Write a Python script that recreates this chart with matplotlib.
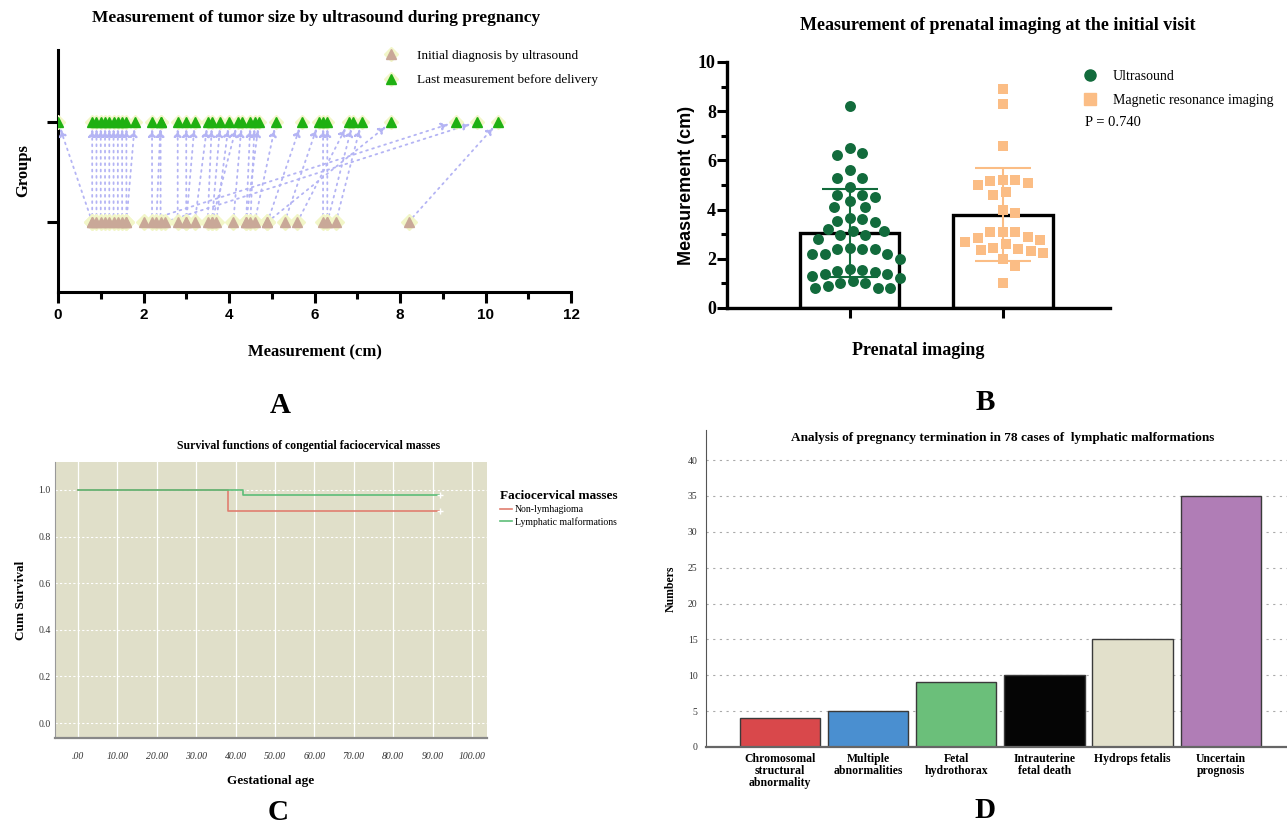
import numpy as np
import matplotlib
matplotlib.use('Agg')
import matplotlib.pyplot as plt
from matplotlib.lines import Line2D
from matplotlib.legend_handler import HandlerTuple

plt.rcParams.update({'font.family': 'Liberation Serif', 'font.size': 9})

# ---------------- data ----------------
# A: paired tumour size, initial diagnosis -> last measurement (cm)
initial_cm = [0.8, 0.8, 0.9, 1.0, 1.1, 1.2, 1.3, 1.4, 1.5, 1.6, 1.6, 2.0, 2.2,
              2.3, 2.4, 2.5, 2.8, 3.0, 3.0, 3.2, 3.5, 3.6, 3.6, 3.7, 4.1, 4.4,
              4.4, 4.5, 4.6, 4.9, 4.9, 5.3, 5.6, 6.2, 6.3, 6.3, 6.5, 8.2]
last_cm = [0.0, 0.8, 0.9, 1.0, 1.1, 1.2, 1.3, 1.4, 1.5, 1.6, 1.8, 9.3, 2.2,
           2.4, 2.4, 9.8, 2.8, 3.0, 3.2, 3.5, 3.6, 4.2, 3.8, 4.0, 4.3, 4.5,
           4.7, 4.6, 5.1, 5.7, 7.8, 6.1, 6.8, 6.2, 6.3, 6.9, 7.1, 10.3]

# B: measurement at initial visit (cm)
us_cm = [8.2, 6.5, 6.3, 6.2, 5.6, 5.3, 5.3, 4.9, 4.6, 4.6, 4.5, 4.35, 4.1, 4.1,
         3.65, 3.6, 3.55, 3.5, 3.2, 3.15, 3.15, 2.95, 2.95, 2.8, 2.45, 2.4, 2.4,
         2.4, 2.2, 2.2, 2.2, 2.0, 1.6, 1.55, 1.5, 1.45, 1.4, 1.4, 1.3, 1.2, 1.1,
         1.0, 1.0, 0.9, 0.8, 0.8, 0.8]
mri_cm = [8.9, 8.3, 6.6, 5.2, 5.2, 5.15, 5.1, 5.0, 4.7, 4.6, 4.0, 3.85, 3.1,
          3.1, 3.1, 2.9, 2.85, 2.75, 2.7, 2.6, 2.45, 2.4, 2.35, 2.3, 2.25, 2.0,
          1.7, 1.0]
p_value = 'P = 0.740'

# C: Kaplan-Meier steps
km_time = [0, 38, 42, 92]
km_non_lymph = [1.0, 0.909, 0.909, 0.909]
km_lymph = [1.0, 1.0, 0.977, 0.977]
c_xticks = [0, 10, 20, 30, 40, 50, 60, 70, 80, 90, 100]
c_yticks = [0.0, 0.2, 0.4, 0.6, 0.8, 1.0]

# D: pregnancy termination reasons
d_labels = ['Chromosomal\nstructural\nabnormality', 'Multiple\nabnormalities',
            'Fetal\nhydrothorax', 'Intrauterine\nfetal death',
            'Hydrops fetalis', 'Uncertain\nprognosis']
d_counts = [4, 5, 9, 10, 15, 35]
d_colors = ['#d9484b', '#4a8fd0', '#6bbf7a', '#050505', '#e2e0cb', '#b07db6']

W, H = 1287, 825
fig = plt.figure(figsize=(W / 100, H / 100), dpi=100)


def px_axes(l, t, r, b):
    return fig.add_axes([l / W, 1 - b / H, (r - l) / W, (b - t) / H])


# ---------------- A ----------------
ax = px_axes(58, 50, 571, 292)
ax.set_xlim(0, 12)
ax.set_ylim(0.3, 2.72)
lav = '#b4b4f4'
for a, b in zip(initial_cm, last_cm):
    ax.annotate('', xy=(b, 2), xytext=(a, 1),
                arrowprops=dict(arrowstyle='-|>', color=lav, lw=1.3,
                                linestyle=(0, (1, 2.5)), mutation_scale=11,
                                shrinkA=0, shrinkB=5))
ax.plot(initial_cm, [1] * len(initial_cm), 'D', color='#f2f6c8', ms=8,
        ls='none', zorder=3)
ax.plot(initial_cm, [1] * len(initial_cm), '^', color='#c9a898', ms=7,
        ls='none', zorder=4)
ax.plot(last_cm, [2] * len(last_cm), 'D', color='#f2f6c8', ms=7,
        ls='none', zorder=3)
ax.plot(last_cm, [2] * len(last_cm), '^', color='#1fb012', ms=7,
        ls='none', zorder=4)
ax.set_yticks([1, 2])
ax.set_yticklabels([])
ax.set_xticks(range(0, 13, 2))
ax.set_xticks(range(1, 12, 2), minor=True)
for s in ['top', 'right']:
    ax.spines[s].set_visible(False)
for s in ['left', 'bottom']:
    ax.spines[s].set_linewidth(2.2)
ax.tick_params(axis='both', which='major', width=2.2, length=8)
ax.tick_params(axis='x', which='minor', width=2.2, length=5)
for t in ax.get_xticklabels():
    t.set_family('Liberation Sans')
    t.set_fontweight('bold')
    t.set_fontsize(11)
ax.set_xlabel('Measurement (cm)', fontsize=12, fontweight='bold', labelpad=16)
ax.set_ylabel('Groups', fontsize=12, fontweight='bold', labelpad=8)
fig.text(316 / W, 1 - 18 / H, 'Measurement of tumor size by ultrasound during pregnancy',
         ha='center', va='center', fontsize=12.5, fontweight='bold')
h1 = (Line2D([], [], marker='D', color='#f2f6c8', ms=7, ls='none'),
      Line2D([], [], marker='^', color='#c9a898', ms=7, ls='none'))
h2 = (Line2D([], [], marker='D', color='#f2f6c8', ms=7, ls='none'),
      Line2D([], [], marker='^', color='#1fb012', ms=7, ls='none'))
ax.legend([h1, h2], ['Initial diagnosis by ultrasound',
                     'Last measurement before delivery'],
          handler_map={tuple: HandlerTuple(ndivide=1, pad=0)},
          loc='upper left', bbox_to_anchor=(0.6, 1.05), frameon=False,
          fontsize=9.5, handletextpad=1.0, labelspacing=0.9)
fig.text(280 / W, 1 - 405 / H, 'A', ha='center', va='center', fontsize=21,
         fontweight='bold')

# ---------------- B ----------------
ax = px_axes(727, 62, 1110, 308)
ax.set_xlim(-0.80, 1.70)
ax.set_ylim(0, 10)
green = '#126b3c'
orange = '#fbbd85'


def swarm(ax, values, xc, diam_px):
    pts = ax.transData.transform([(xc, v) for v in values])
    placed = []
    xs = []
    for px, py in pts:
        best = None
        for k in range(0, 40):
            for sgn in ([1] if k == 0 else [1, -1]):
                cand = px + sgn * k * diam_px * 0.25
                if all((cand - qx) ** 2 + (py - qy) ** 2 >= diam_px ** 2
                       for qx, qy in placed):
                    best = cand
                    break
            if best is not None:
                break
        placed.append((best, py))
        xs.append(ax.transData.inverted().transform((best, py))[0])
    return xs


for xc, vals, col, mk in [(0, us_cm, green, 'o'), (1, mri_cm, orange, 's')]:
    m, sd = np.mean(vals), np.std(vals, ddof=1)
    ax.bar(xc, m, width=0.65, facecolor='white', edgecolor='black',
           linewidth=2.4, zorder=1)
    xs = swarm(ax, vals, xc, 12.5)
    ax.scatter(xs, vals, s=62, marker=mk, color=col, linewidths=0, zorder=3)
    ax.errorbar(xc, m, yerr=sd, color=col, capsize=20, capthick=1.5,
                elinewidth=1.5, zorder=4)
ax.set_xticks([0, 1])
ax.set_xticklabels([])
ax.set_yticks(range(0, 11, 2))
ax.set_yticks(range(1, 10, 2), minor=True)
for s in ['top', 'right']:
    ax.spines[s].set_visible(False)
for s in ['left', 'bottom']:
    ax.spines[s].set_linewidth(2.4)
ax.tick_params(axis='both', which='major', width=2.2, length=7)
ax.tick_params(axis='y', which='major', pad=1)
ax.tick_params(axis='y', which='minor', width=2.2, length=4)
for t in ax.get_yticklabels():
    t.set_fontweight('bold')
    t.set_fontsize(13)
ax.set_ylabel('Measurement (cm)', family='Liberation Sans', fontsize=13,
              fontweight='bold', labelpad=2)
ax.set_xlabel('Prenatal imaging', fontsize=13, fontweight='bold', labelpad=14)
fig.text(998 / W, 1 - 25 / H, 'Measurement of prenatal imaging at the initial visit',
         ha='center', va='center', fontsize=13, fontweight='bold')
hb = [Line2D([], [], marker='o', color=green, ms=8, ls='none'),
      Line2D([], [], marker='s', color=orange, ms=8, ls='none')]
ax.legend(hb, ['Ultrasound', 'Magnetic resonance imaging'],
          loc='upper left', bbox_to_anchor=(0.88, 1.02), frameon=False,
          fontsize=10, handletextpad=0.6, labelspacing=0.8)
fig.text(1085 / W, 1 - 123 / H, p_value, ha='left', va='center', fontsize=10.5)
fig.text(985 / W, 1 - 402 / H, 'B', ha='center', va='center', fontsize=21,
         fontweight='bold')

# ---------------- C ----------------
ax = px_axes(55, 462, 487, 738)
ax.set_facecolor('#e0dfc9')
ax.set_xlim(-5.8, 103.8)
ax.set_ylim(-0.064, 1.12)
for x in c_xticks:
    ax.axvline(x, color='white', lw=0.9, zorder=0)
for y in c_yticks:
    ax.axhline(y, color='white', lw=0.8, ls=(0, (2, 2)), zorder=0)
ax.step(km_time, km_non_lymph, where='post', color='#e07e70', lw=1.2)
ax.step(km_time, km_lymph, where='post', color='#5dbd78', lw=1.2)
ax.plot([km_time[-1]], [km_non_lymph[-1]], '+', color='white', ms=5)
ax.plot([km_time[-1]], [km_lymph[-1]], '+', color='white', ms=5)
ax.set_xticks(c_xticks)
ax.set_xticklabels(['.00'] + ['%.2f' % v for v in c_xticks[1:]],
                   fontstyle='italic', fontsize=7)
ax.set_yticks(c_yticks)
ax.set_yticklabels(['%.1f' % v for v in c_yticks], fontsize=7)
ax.tick_params(axis='x', length=0, pad=10, colors='#333333')
ax.tick_params(axis='y', length=0, pad=3, colors='#333333')
for s in ['top', 'right']:
    ax.spines[s].set_visible(False)
ax.spines['left'].set_color('#999999')
ax.spines['bottom'].set_color('#888888')
ax.spines['bottom'].set_linewidth(1.6)
ax.set_xlabel('Gestational age', fontsize=9.5, fontweight='bold', labelpad=10)
ax.set_ylabel('Cum Survival', fontsize=9.5, fontweight='bold', labelpad=8)
fig.text(309 / W, 1 - 446 / H, 'Survival functions of congential faciocervical masses',
         ha='center', va='center', fontsize=8.5, fontweight='bold')
hc = [Line2D([], [], color='#e07e70', lw=1.2, drawstyle='steps-mid'),
      Line2D([], [], color='#5dbd78', lw=1.2, drawstyle='steps-mid')]
lg = ax.legend(hc, ['Non-lymhagioma', 'Lymphatic malformations'],
               title='Faciocervical masses', loc='upper left',
               bbox_to_anchor=(1.01, 0.93), frameon=False, fontsize=7,
               handlelength=1.2, handletextpad=0.3, labelspacing=0.3,
               alignment='left')
lg.get_title().set_fontweight('bold')
lg.get_title().set_fontsize(9.5)
fig.text(278 / W, 1 - 812 / H, 'C', ha='center', va='center', fontsize=21,
         fontweight='bold')

# ---------------- D ----------------
ax = px_axes(706, 430, 1300, 747)
ax.set_xlim(-0.84, 5.9)
ax.set_ylim(0, 44.2)
ax.set_yticks(range(0, 41, 5))
ax.yaxis.grid(True, color='#aaaaaa', ls=(0, (2, 4)), lw=0.8)
ax.set_axisbelow(True)
ax.bar(range(len(d_counts)), d_counts, width=0.91, color=d_colors,
       edgecolor='#3a3a3a', linewidth=1.0)
ax.set_xticks(range(len(d_counts)))
ax.set_xticklabels(d_labels, fontsize=8.5, fontweight='bold', linespacing=1.05)
ax.tick_params(axis='x', length=0, pad=4)
ax.tick_params(axis='y', length=0, labelsize=7, pad=6, colors='#333333')
for s in ['top', 'right']:
    ax.spines[s].set_visible(False)
ax.spines['left'].set_color('#555555')
ax.spines['bottom'].set_color('#666666')
ax.spines['bottom'].set_linewidth(1.6)
ax.set_ylabel('Numbers', fontsize=8.5, fontweight='bold', labelpad=8)
fig.text(1003 / W, 1 - 438 / H,
         'Analysis of pregnancy termination in 78 cases of  lymphatic malformations',
         ha='center', va='center', fontsize=9.5, fontweight='bold')
fig.text(985 / W, 1 - 810 / H, 'D', ha='center', va='center', fontsize=21,
         fontweight='bold')

fig.savefig('out.png', dpi=100)
